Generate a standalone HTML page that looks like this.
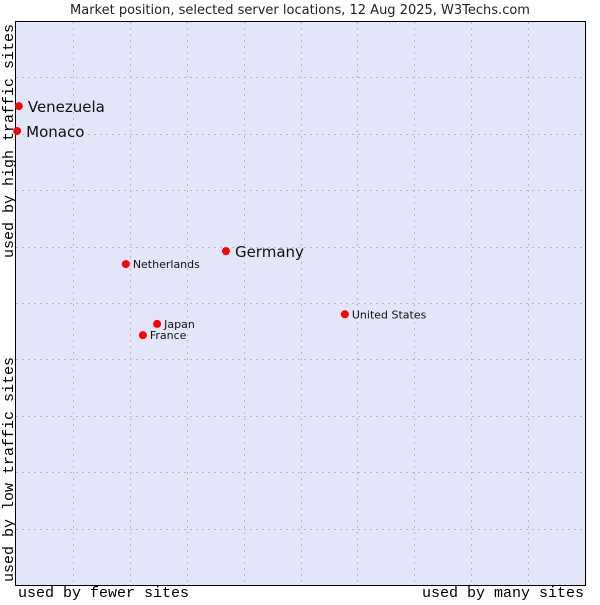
<!DOCTYPE html>
<html><head><meta charset="utf-8"><style>
body{margin:0;background:#fff;width:600px;height:600px;overflow:hidden}
svg text{font-family:"DejaVu Sans","Liberation Sans",sans-serif}
.mono{font-family:"Liberation Mono","DejaVu Sans Mono",monospace}
</style></head><body>
<svg id="c" width="600" height="600">
<text x="300" y="14" font-size="13" text-anchor="middle" fill="#222">Market position, selected server locations, 12 Aug 2025, W3Techs.com</text>
<rect x="15.5" y="21.5" width="570" height="564" fill="#e3e5f8" stroke="#000"/>
<g id="grid"></g>
<g id="pts"></g>
<text class="mono" x="18" y="597" font-size="15" fill="#000">used by fewer sites</text>
<text class="mono" x="584" y="597" font-size="15" text-anchor="end" fill="#000">used by many sites</text>
<text class="mono" transform="translate(13,582) rotate(-90)" font-size="15" fill="#000">used by low traffic sites</text>
<text class="mono" transform="translate(13,258) rotate(-90)" font-size="15" fill="#000">used by high traffic sites</text>
</svg>
<script>
const names=["Venezuela","Monaco","Germany","Netherlands","Japan","France","United States"];
const xs=[0.5,0.2,36.9,19.3,24.8,22.3,57.8];
const ys=[84.9,80.5,59.2,56.9,46.3,44.3,48.0];
const big=[true,true,true,false,false,false,false];
const X=v=>16+v/100*569, Y=v=>585-v/100*564;
const ns="http://www.w3.org/2000/svg";
const g=document.getElementById('grid'),p=document.getElementById('pts');
for(let i=1;i<10;i++){
 const l=document.createElementNS(ns,'line');
 
 
 const x=Math.round(X(i*10))+0.5;
 l.setAttribute('x1',x);l.setAttribute('x2',x);l.setAttribute('y1',22);l.setAttribute('y2',585);
 l.setAttribute('stroke','#bbb');l.setAttribute('stroke-dasharray','2,4');g.appendChild(l);
 const h=document.createElementNS(ns,'line');
 
 
 const y=Math.round(Y(i*10))+0.5;
 h.setAttribute('x1',16);h.setAttribute('x2',585);h.setAttribute('y1',y);h.setAttribute('y2',y);
 h.setAttribute('stroke','#bbb');h.setAttribute('stroke-dasharray','2,4');g.appendChild(h);
}
names.forEach((n,i)=>{
 const cx=X(xs[i]),cy=Y(ys[i]);
 const c=document.createElementNS(ns,'circle');
 
 
 c.setAttribute('cx',cx);c.setAttribute('cy',cy);c.setAttribute('r',4);c.setAttribute('fill','#f00');p.appendChild(c);
 const t=document.createElementNS(ns,'text');
 
 
 t.setAttribute('x',cx+(big[i]?9:7));t.setAttribute('y',cy+(big[i]?6:4));
 t.setAttribute('font-size',big[i]?15:11);t.setAttribute('fill','#111');t.textContent=n;p.appendChild(t);
});
</script>
</body></html>
